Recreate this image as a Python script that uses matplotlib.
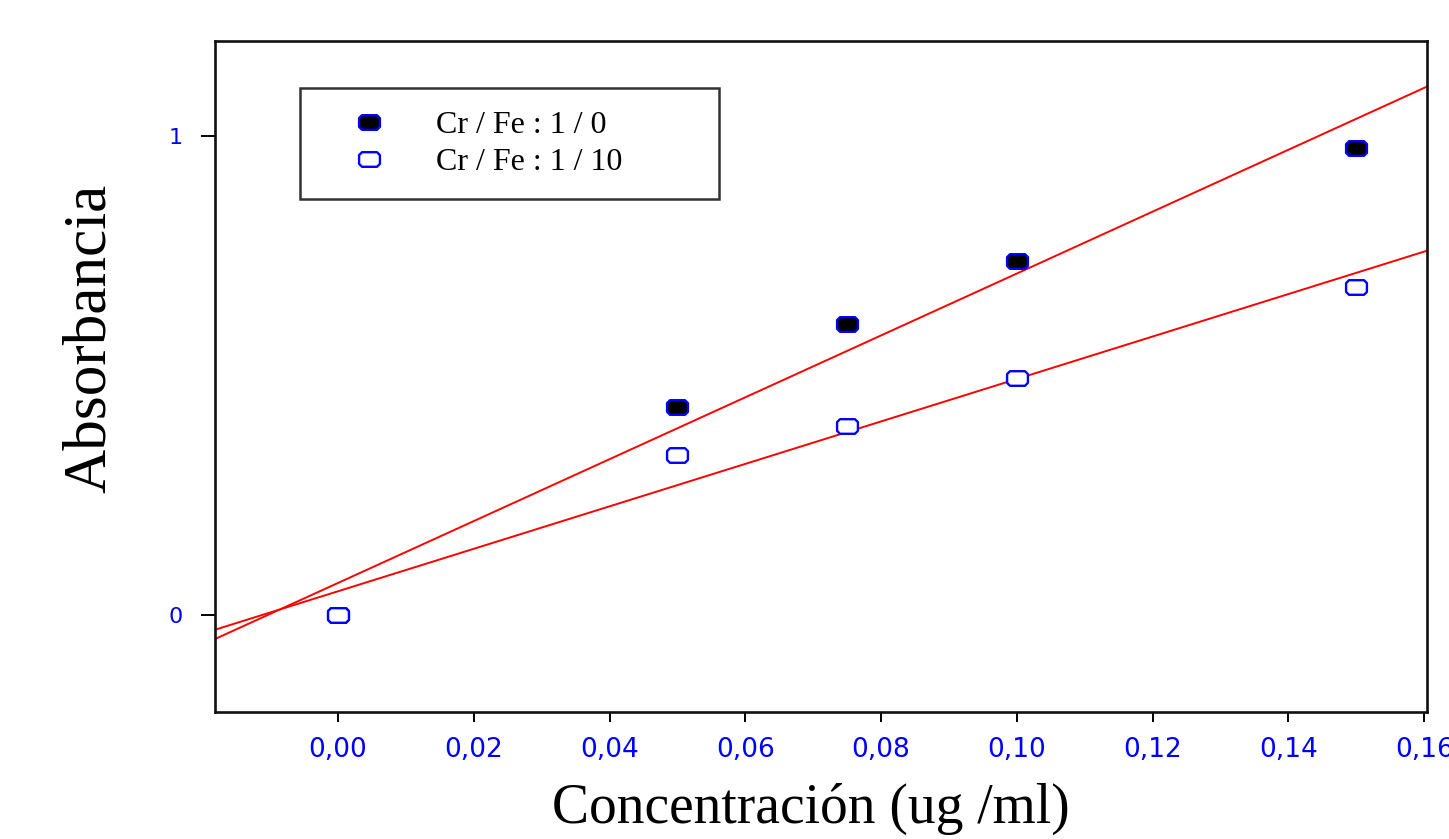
import numpy as np
import matplotlib
matplotlib.use("Agg")
import matplotlib.pyplot as plt
from matplotlib.path import Path
from matplotlib.ticker import FixedLocator, FuncFormatter

# ---- data ----
conc = [0.00, 0.05, 0.075, 0.10, 0.15]
abs_1_0 = [0.000, 0.434, 0.608, 0.739, 0.975]
abs_1_10 = [0.000, 0.334, 0.395, 0.495, 0.685]
labels = ["Cr / Fe : 1 / 0", "Cr / Fe : 1 / 10"]
xticks = [0.00, 0.02, 0.04, 0.06, 0.08, 0.10, 0.12, 0.14, 0.16]
yticks = [0, 1]

# rounded-rectangle marker shape
c = 0.28
verts = [(-1 + c, -0.7), (1 - c, -0.7), (1, -0.7 + c), (1, 0.7 - c),
         (1 - c, 0.7), (-1 + c, 0.7), (-1, 0.7 - c), (-1, -0.7 + c), (-1 + c, -0.7)]
rrect = Path(verts, [Path.MOVETO] + [Path.LINETO] * 7 + [Path.CLOSEPOLY])

fig = plt.figure(figsize=(14.49, 8.39), dpi=100)
ax = fig.add_axes([0.1484, 0.1514, 0.8364, 0.7997])

xlim = (-0.0181, 0.1604)
ylim = (-0.2025, 1.198)
ax.set_xlim(*xlim)
ax.set_ylim(*ylim)

xx = np.array(xlim)
for ys in (abs_1_0, abs_1_10):
    m, b = np.polyfit(conc, ys, 1)
    ax.plot(xx, m * xx + b, color="#ff0000", lw=1.4, zorder=2)

ax.plot(conc, abs_1_0, linestyle="none", marker=rrect, ms=15, mfc="black",
        mec="#0000ff", mew=1.7, label=labels[0], zorder=3)
ax.plot(conc, abs_1_10, linestyle="none", marker=rrect, ms=15, mfc="white",
        mec="#0000ff", mew=1.7, label=labels[1], zorder=4)

ax.xaxis.set_major_locator(FixedLocator(xticks))
ax.yaxis.set_major_locator(FixedLocator(yticks))
ax.xaxis.set_major_formatter(FuncFormatter(lambda v, p: f"{v:.2f}".replace(".", ",")))
ax.yaxis.set_major_formatter(FuncFormatter(lambda v, p: f"{int(round(v))}"))

ax.tick_params(axis="x", direction="out", length=7, width=1.4, pad=11,
               labelsize=19, labelcolor="#0000ff", top=False)
ax.tick_params(axis="y", direction="out", length=10, width=1.4, pad=13,
               labelsize=16, labelcolor="#0000ff", right=False)
for lab in ax.get_xticklabels() + ax.get_yticklabels():
    lab.set_fontfamily("DejaVu Sans")

for s in ax.spines.values():
    s.set_linewidth(1.9)
    s.set_color("#111111")

ax.set_xlabel("Concentración (ug /ml)", fontfamily="Liberation Serif", fontsize=40)
ax.xaxis.set_label_coords(0.492, -0.106)
ax.set_ylabel("Absorbancia", fontfamily="Liberation Serif", fontsize=44)
ax.yaxis.set_label_coords(-0.080, 0.557)

leg = ax.legend(loc="upper left", bbox_to_anchor=(0.0701, 0.7705, 0.3457, 0.1595),
                mode="expand", frameon=True, fancybox=False, borderpad=0.7,
                handlelength=2.9, handletextpad=0.66, labelspacing=0.25,
                borderaxespad=0, prop={"family": "Liberation Serif", "size": 23})
leg.get_frame().set_edgecolor("black")
leg.get_frame().set_linewidth(1.8)

fig.savefig("out.png", dpi=100)
